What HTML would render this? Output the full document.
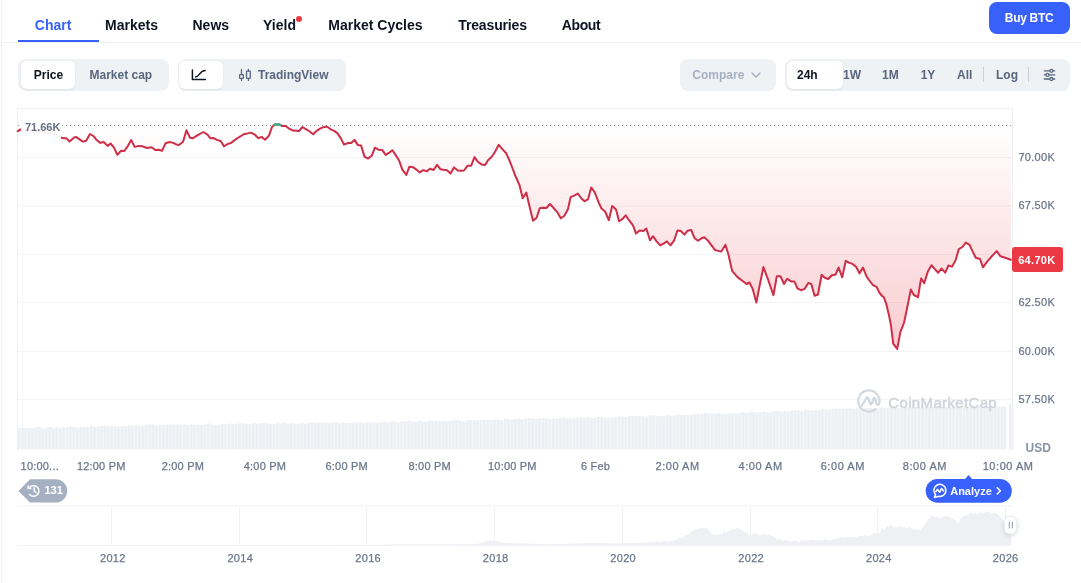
<!DOCTYPE html>
<html><head><meta charset="utf-8"><style>
*{margin:0;padding:0;box-sizing:border-box}
html,body{width:1081px;height:583px;overflow:hidden;background:#fff;font-family:"Liberation Sans",sans-serif}
.t{position:absolute;white-space:nowrap;line-height:1}
#root{position:absolute;left:0;top:0;width:1081px;height:583px;will-change:transform}
</style></head><body><div id="root">
<div style="position:absolute;left:1px;top:0px;width:1px;height:583px;background:#EEF0F3;border-radius:0px;"></div>
<div class="t" style="left:34.80px;top:18.15px;font-size:14px;color:#3861FB;font-weight:700;">Chart</div>
<div class="t" style="left:105.00px;top:18.15px;font-size:14px;color:#0D1421;font-weight:700;">Markets</div>
<div class="t" style="left:192.50px;top:18.15px;font-size:14px;color:#0D1421;font-weight:700;">News</div>
<div class="t" style="left:263.00px;top:18.15px;font-size:14px;color:#0D1421;font-weight:700;">Yield</div>
<div class="t" style="left:328.30px;top:18.15px;font-size:14px;color:#0D1421;font-weight:700;">Market Cycles</div>
<div class="t" style="left:458.30px;top:18.15px;font-size:14px;color:#0D1421;font-weight:700;letter-spacing:-0.15px;">Treasuries</div>
<div class="t" style="left:561.70px;top:18.15px;font-size:14px;color:#0D1421;font-weight:700;letter-spacing:-0.35px;">About</div>
<div style="position:absolute;left:296px;top:16px;width:6px;height:6px;background:#EA3943;border-radius:3px;"></div>
<div style="position:absolute;left:2px;top:42px;width:1079px;height:1px;background:#EFF2F5;border-radius:0px;"></div>
<div style="position:absolute;left:18px;top:40px;width:81px;height:2px;background:#3861FB;border-radius:0px;"></div>
<div style="position:absolute;left:989px;top:2px;width:81px;height:32px;background:#3861FB;border-radius:8px;"></div>
<div class="t" style="left:1004.80px;top:11.64px;font-size:12px;color:#fff;font-weight:700;letter-spacing:-0.3px;">Buy BTC</div>
<div style="position:absolute;left:18px;top:59px;width:151px;height:31.5px;background:#EFF2F5;border-radius:8px;"></div>
<div style="position:absolute;left:21px;top:61px;width:54px;height:28px;background:#fff;border-radius:6px;box-shadow:0 1px 2px rgba(88,102,126,0.12)"></div>
<div class="t" style="left:33.80px;top:68.84px;font-size:12px;color:#0D1421;font-weight:700;">Price</div>
<div class="t" style="left:89.50px;top:68.84px;font-size:12px;color:#58667E;font-weight:700;">Market cap</div>
<div style="position:absolute;left:178px;top:59px;width:168px;height:31.5px;background:#EFF2F5;border-radius:8px;"></div>
<div style="position:absolute;left:179px;top:61px;width:44px;height:28px;background:#fff;border-radius:6px;box-shadow:0 1px 2px rgba(88,102,126,0.12)"></div>
<div class="t" style="left:258.00px;top:68.84px;font-size:12px;color:#58667E;font-weight:700;">TradingView</div>
<div style="position:absolute;left:680px;top:59px;width:96px;height:31.5px;background:#EFF2F5;border-radius:8px;"></div>
<div class="t" style="left:692.30px;top:68.84px;font-size:12px;color:#A6B0C3;font-weight:700;">Compare</div>
<div style="position:absolute;left:785px;top:59px;width:285px;height:31.5px;background:#EFF2F5;border-radius:8px;"></div>
<div class="t" style="left:843.00px;top:68.84px;font-size:12px;color:#58667E;font-weight:700;">1W</div>
<div style="position:absolute;left:786.5px;top:61px;width:56.5px;height:28px;background:#fff;border-radius:6px;box-shadow:0 1px 2px rgba(88,102,126,0.12)"></div>
<div class="t" style="left:797.00px;top:68.84px;font-size:12px;color:#0D1421;font-weight:700;">24h</div>
<div class="t" style="left:882.00px;top:68.84px;font-size:12px;color:#58667E;font-weight:700;">1M</div>
<div class="t" style="left:920.70px;top:68.84px;font-size:12px;color:#58667E;font-weight:700;">1Y</div>
<div class="t" style="left:957.00px;top:68.84px;font-size:12px;color:#58667E;font-weight:700;">All</div>
<div style="position:absolute;left:982.5px;top:67.3px;width:1.2px;height:15.2px;background:#C9D0DA;border-radius:0px;"></div>
<div class="t" style="left:996.00px;top:68.84px;font-size:12px;color:#58667E;font-weight:700;">Log</div>
<div style="position:absolute;left:1028.2px;top:67.3px;width:1.2px;height:15.2px;background:#C9D0DA;border-radius:0px;"></div>

<svg style="position:absolute;left:0;top:0" width="1081" height="100" viewBox="0 0 1081 100">
 <g fill="none" stroke="#0D1421" stroke-width="1.5" stroke-linecap="round" stroke-linejoin="round">
  <path d="M192.4 70 V79.6 H205.4"/>
  <path d="M195.6 77 C199.6 76.6 199.6 70.6 205.2 70.5"/>
 </g>
 <g fill="none" stroke="#58667E" stroke-width="1.3" stroke-linecap="round">
  <path d="M241.5 69.5 V74.6 M241.5 78.4 V80.4"/><rect x="239.6" y="74.6" width="3.8" height="3.8" rx="0.6"/>
  <path d="M248.4 69.5 V71.2 M248.4 78.4 V80.4"/><rect x="246.5" y="71.2" width="3.8" height="7.2" rx="0.6"/>
 </g>
 <path d="M752 73 L756 77 L760 73" fill="none" stroke="#A6B0C3" stroke-width="1.5" stroke-linecap="round" stroke-linejoin="round"/>
 <g stroke="#58667E" stroke-width="1.3" stroke-linecap="round" fill="#EFF2F5">
  <path d="M1044.3 70.8 H1054.7"/><path d="M1044.3 74.9 H1054.7"/><path d="M1044.3 79 H1054.7"/>
  <circle cx="1051.4" cy="70.8" r="1.5"/><circle cx="1047.5" cy="74.9" r="1.5"/><circle cx="1051.4" cy="79" r="1.5"/>
 </g>
</svg>

<svg style="position:absolute;left:0;top:0" width="1081" height="583" viewBox="0 0 1081 583">
 <defs>
  <linearGradient id="rf" x1="0" y1="125.3" x2="0" y2="350" gradientUnits="userSpaceOnUse">
   <stop offset="0" stop-color="#EA3943" stop-opacity="0.0"/>
   <stop offset="1" stop-color="#EA3943" stop-opacity="0.26"/>
  </linearGradient>
 <pattern id="vp" x="17.5" y="0" width="3.45" height="10" patternUnits="userSpaceOnUse">
   <rect x="0" y="0" width="2.5" height="10" fill="#ECEFF3"/><rect x="2.5" y="0" width="0.95" height="10" fill="#F4F6F8"/>
  </pattern>
 </defs>
 <rect x="17" y="108" width="995.5" height="1" fill="#EDEFF2"/>
 <rect x="17" y="108" width="1" height="342" fill="#EDEFF2"/>
 <rect x="1012" y="108" width="1" height="342" fill="#EDEFF2"/>
 <rect x="18" y="157" width="994" height="1" fill="#F3F4F6"/><rect x="18" y="205.5" width="994" height="1" fill="#F3F4F6"/><rect x="18" y="254" width="994" height="1" fill="#F3F4F6"/><rect x="18" y="302" width="994" height="1" fill="#F3F4F6"/><rect x="18" y="351" width="994" height="1" fill="#F3F4F6"/><rect x="18" y="399" width="994" height="1" fill="#F3F4F6"/>
 <rect x="22" y="109" width="1" height="340" fill="#F6F7F9"/>
 <path d="M17.5 449.5 L17.50 427.8 L20.95 427.8 L20.95 428.1 L24.40 428.1 L24.40 427.8 L27.85 427.8 L27.85 428.1 L31.30 428.1 L31.30 428.1 L34.75 428.1 L34.75 427.1 L38.20 427.1 L38.20 427.0 L41.65 427.0 L41.65 428.2 L45.10 428.2 L45.10 427.2 L48.55 427.2 L48.55 427.1 L52.00 427.1 L52.00 428.2 L55.45 428.2 L55.45 427.3 L58.90 427.3 L58.90 427.8 L62.35 427.8 L62.35 427.2 L65.80 427.2 L65.80 427.3 L69.25 427.3 L69.25 426.5 L72.70 426.5 L72.70 427.1 L76.15 427.1 L76.15 427.4 L79.60 427.4 L79.60 426.8 L83.05 426.8 L83.05 427.0 L86.50 427.0 L86.50 426.8 L89.95 426.8 L89.95 425.8 L93.40 425.8 L93.40 426.8 L96.85 426.8 L96.85 426.5 L100.30 426.5 L100.30 425.9 L103.75 425.9 L103.75 425.4 L107.20 425.4 L107.20 426.6 L110.65 426.6 L110.65 425.9 L114.10 425.9 L114.10 426.2 L117.55 426.2 L117.55 426.4 L121.00 426.4 L121.00 426.0 L124.45 426.0 L124.45 426.2 L127.90 426.2 L127.90 425.4 L131.35 425.4 L131.35 425.9 L134.80 425.9 L134.80 425.3 L138.25 425.3 L138.25 425.9 L141.70 425.9 L141.70 425.7 L145.15 425.7 L145.15 424.5 L148.60 424.5 L148.60 424.4 L152.05 424.4 L152.05 424.5 L155.50 424.5 L155.50 425.5 L158.95 425.5 L158.95 424.7 L162.40 424.7 L162.40 424.9 L165.85 424.9 L165.85 424.4 L169.30 424.4 L169.30 424.6 L172.75 424.6 L172.75 424.4 L176.20 424.4 L176.20 424.3 L179.65 424.3 L179.65 424.6 L183.10 424.6 L183.10 424.6 L186.55 424.6 L186.55 425.0 L190.00 425.0 L190.00 424.6 L193.45 424.6 L193.45 424.9 L196.90 424.9 L196.90 424.8 L200.35 424.8 L200.35 424.9 L203.80 424.9 L203.80 424.4 L207.25 424.4 L207.25 423.6 L210.70 423.6 L210.70 424.6 L214.15 424.6 L214.15 424.7 L217.60 424.7 L217.60 424.6 L221.05 424.6 L221.05 424.0 L224.50 424.0 L224.50 424.2 L227.95 424.2 L227.95 423.4 L231.40 423.4 L231.40 424.3 L234.85 424.3 L234.85 423.8 L238.30 423.8 L238.30 423.3 L241.75 423.3 L241.75 423.0 L245.20 423.0 L245.20 424.1 L248.65 424.1 L248.65 424.3 L252.10 424.3 L252.10 422.9 L255.55 422.9 L255.55 423.9 L259.00 423.9 L259.00 423.3 L262.45 423.3 L262.45 422.9 L265.90 422.9 L265.90 423.0 L269.35 423.0 L269.35 423.7 L272.80 423.7 L272.80 423.8 L276.25 423.8 L276.25 422.6 L279.70 422.6 L279.70 423.4 L283.15 423.4 L283.15 422.5 L286.60 422.5 L286.60 423.5 L290.05 423.5 L290.05 422.9 L293.50 422.9 L293.50 423.7 L296.95 423.7 L296.95 423.8 L300.40 423.8 L300.40 423.0 L303.85 423.0 L303.85 423.7 L307.30 423.7 L307.30 422.7 L310.75 422.7 L310.75 422.3 L314.20 422.3 L314.20 423.0 L317.65 423.0 L317.65 422.2 L321.10 422.2 L321.10 422.4 L324.55 422.4 L324.55 422.7 L328.00 422.7 L328.00 422.9 L331.45 422.9 L331.45 422.2 L334.90 422.2 L334.90 422.0 L338.35 422.0 L338.35 423.2 L341.80 423.2 L341.80 422.3 L345.25 422.3 L345.25 423.2 L348.70 423.2 L348.70 423.1 L352.15 423.1 L352.15 422.2 L355.60 422.2 L355.60 422.3 L359.05 422.3 L359.05 422.3 L362.50 422.3 L362.50 422.5 L365.95 422.5 L365.95 422.3 L369.40 422.3 L369.40 422.2 L372.85 422.2 L372.85 422.2 L376.30 422.2 L376.30 422.7 L379.75 422.7 L379.75 422.0 L383.20 422.0 L383.20 421.8 L386.65 421.8 L386.65 422.2 L390.10 422.2 L390.10 421.4 L393.55 421.4 L393.55 421.4 L397.00 421.4 L397.00 422.4 L400.45 422.4 L400.45 421.6 L403.90 421.6 L403.90 421.6 L407.35 421.6 L407.35 420.7 L410.80 420.7 L410.80 421.3 L414.25 421.3 L414.25 421.5 L417.70 421.5 L417.70 420.6 L421.15 420.6 L421.15 421.4 L424.60 421.4 L424.60 421.4 L428.05 421.4 L428.05 420.4 L431.50 420.4 L431.50 421.2 L434.95 421.2 L434.95 420.9 L438.40 420.9 L438.40 421.2 L441.85 421.2 L441.85 420.6 L445.30 420.6 L445.30 421.1 L448.75 421.1 L448.75 421.1 L452.20 421.1 L452.20 420.0 L455.65 420.0 L455.65 420.0 L459.10 420.0 L459.10 420.8 L462.55 420.8 L462.55 421.2 L466.00 421.2 L466.00 420.1 L469.45 420.1 L469.45 420.3 L472.90 420.3 L472.90 420.5 L476.35 420.5 L476.35 420.0 L479.80 420.0 L479.80 420.0 L483.25 420.0 L483.25 419.8 L486.70 419.8 L486.70 419.7 L490.15 419.7 L490.15 420.0 L493.60 420.0 L493.60 419.4 L497.05 419.4 L497.05 419.4 L500.50 419.4 L500.50 419.9 L503.95 419.9 L503.95 418.6 L507.40 418.6 L507.40 419.3 L510.85 419.3 L510.85 419.5 L514.30 419.5 L514.30 418.8 L517.75 418.8 L517.75 418.6 L521.20 418.6 L521.20 419.4 L524.65 419.4 L524.65 418.5 L528.10 418.5 L528.10 418.3 L531.55 418.3 L531.55 418.6 L535.00 418.6 L535.00 418.9 L538.45 418.9 L538.45 418.0 L541.90 418.0 L541.90 418.2 L545.35 418.2 L545.35 418.2 L548.80 418.2 L548.80 418.9 L552.25 418.9 L552.25 418.2 L555.70 418.2 L555.70 418.8 L559.15 418.8 L559.15 417.7 L562.60 417.7 L562.60 417.8 L566.05 417.8 L566.05 418.2 L569.50 418.2 L569.50 418.5 L572.95 418.5 L572.95 417.8 L576.40 417.8 L576.40 417.4 L579.85 417.4 L579.85 417.2 L583.30 417.2 L583.30 417.7 L586.75 417.7 L586.75 417.1 L590.20 417.1 L590.20 418.0 L593.65 418.0 L593.65 418.0 L597.10 418.0 L597.10 416.9 L600.55 416.9 L600.55 417.0 L604.00 417.0 L604.00 417.7 L607.45 417.7 L607.45 417.3 L610.90 417.3 L610.90 417.5 L614.35 417.5 L614.35 416.7 L617.80 416.7 L617.80 416.2 L621.25 416.2 L621.25 416.4 L624.70 416.4 L624.70 417.0 L628.15 417.0 L628.15 416.1 L631.60 416.1 L631.60 416.1 L635.05 416.1 L635.05 416.1 L638.50 416.1 L638.50 416.0 L641.95 416.0 L641.95 415.9 L645.40 415.9 L645.40 416.5 L648.85 416.5 L648.85 415.2 L652.30 415.2 L652.30 414.9 L655.75 414.9 L655.75 416.2 L659.20 416.2 L659.20 416.0 L662.65 416.0 L662.65 416.0 L666.10 416.0 L666.10 415.1 L669.55 415.1 L669.55 415.8 L673.00 415.8 L673.00 415.6 L676.45 415.6 L676.45 414.4 L679.90 414.4 L679.90 415.1 L683.35 415.1 L683.35 415.1 L686.80 415.1 L686.80 414.8 L690.25 414.8 L690.25 414.4 L693.70 414.4 L693.70 414.0 L697.15 414.0 L697.15 413.9 L700.60 413.9 L700.60 413.7 L704.05 413.7 L704.05 413.3 L707.50 413.3 L707.50 414.0 L710.95 414.0 L710.95 413.4 L714.40 413.4 L714.40 414.1 L717.85 414.1 L717.85 412.8 L721.30 412.8 L721.30 414.0 L724.75 414.0 L724.75 413.6 L728.20 413.6 L728.20 413.8 L731.65 413.8 L731.65 413.6 L735.10 413.6 L735.10 413.5 L738.55 413.5 L738.55 412.9 L742.00 412.9 L742.00 412.0 L745.45 412.0 L745.45 412.9 L748.90 412.9 L748.90 411.9 L752.35 411.9 L752.35 412.0 L755.80 412.0 L755.80 412.4 L759.25 412.4 L759.25 412.1 L762.70 412.1 L762.70 411.7 L766.15 411.7 L766.15 412.4 L769.60 412.4 L769.60 411.8 L773.05 411.8 L773.05 411.2 L776.50 411.2 L776.50 410.9 L779.95 410.9 L779.95 411.7 L783.40 411.7 L783.40 411.0 L786.85 411.0 L786.85 411.3 L790.30 411.3 L790.30 410.5 L793.75 410.5 L793.75 410.2 L797.20 410.2 L797.20 410.5 L800.65 410.5 L800.65 410.8 L804.10 410.8 L804.10 409.7 L807.55 409.7 L807.55 410.5 L811.00 410.5 L811.00 410.5 L814.45 410.5 L814.45 410.2 L817.90 410.2 L817.90 410.1 L821.35 410.1 L821.35 408.7 L824.80 408.7 L824.80 409.5 L828.25 409.5 L828.25 409.7 L831.70 409.7 L831.70 408.4 L835.15 408.4 L835.15 408.6 L838.60 408.6 L838.60 408.5 L842.05 408.5 L842.05 408.8 L845.50 408.8 L845.50 408.6 L848.95 408.6 L848.95 408.6 L852.40 408.6 L852.40 409.0 L855.85 409.0 L855.85 407.8 L859.30 407.8 L859.30 407.8 L862.75 407.8 L862.75 407.9 L866.20 407.9 L866.20 407.8 L869.65 407.8 L869.65 407.7 L873.10 407.7 L873.10 409.0 L876.55 409.0 L876.55 408.7 L880.00 408.7 L880.00 407.5 L883.45 407.5 L883.45 408.1 L886.90 408.1 L886.90 407.8 L890.35 407.8 L890.35 407.7 L893.80 407.7 L893.80 407.7 L897.25 407.7 L897.25 408.1 L900.70 408.1 L900.70 407.9 L904.15 407.9 L904.15 407.5 L907.60 407.5 L907.60 407.2 L911.05 407.2 L911.05 407.4 L914.50 407.4 L914.50 407.0 L917.95 407.0 L917.95 407.6 L921.40 407.6 L921.40 407.8 L924.85 407.8 L924.85 407.2 L928.30 407.2 L928.30 406.7 L931.75 406.7 L931.75 406.8 L935.20 406.8 L935.20 407.1 L938.65 407.1 L938.65 407.3 L942.10 407.3 L942.10 407.6 L945.55 407.6 L945.55 406.9 L949.00 406.9 L949.00 407.5 L952.45 407.5 L952.45 407.1 L955.90 407.1 L955.90 406.8 L959.35 406.8 L959.35 406.7 L962.80 406.7 L962.80 406.8 L966.25 406.8 L966.25 407.0 L969.70 407.0 L969.70 406.6 L973.15 406.6 L973.15 406.9 L976.60 406.9 L976.60 406.5 L980.05 406.5 L980.05 406.1 L983.50 406.1 L983.50 406.5 L986.95 406.5 L986.95 406.7 L990.40 406.7 L990.40 405.7 L993.85 405.7 L993.85 406.2 L997.30 406.2 L997.30 406.2 L1000.75 406.2 L1000.75 406.8 L1004.20 406.8 L1004.20 406.8 L1006.40 406.8 L1006.4 449.5 Z" fill="url(#vp)"/>
 <rect x="1009" y="403.8" width="2.6" height="45.7" fill="#ECEFF3"/>
 <line x1="18" y1="125.5" x2="1011" y2="125.5" stroke="#8F949C" stroke-width="1" stroke-dasharray="1 3"/>
 <path d="M17.6 125.3 L17.6 131.3 L20.1 129.6 L30.0 130.8 L40.0 131.8 L52.7 133.6 L60.5 137.5 L63.9 138.2 L66.5 138.3 L69.5 141.6 L74.2 137.5 L76.3 137.1 L82.8 141.6 L86.2 140.7 L90.0 134.0 L93.4 136.0 L96.9 140.3 L100.3 142.9 L103.7 142.0 L107.6 145.9 L110.6 143.5 L114.0 147.6 L117.4 154.9 L120.9 150.8 L124.3 151.0 L127.7 146.3 L131.2 140.0 L134.6 146.9 L138.9 145.9 L142.3 146.3 L147.0 148.0 L151.7 147.2 L155.2 150.0 L158.6 149.7 L162.0 150.8 L165.5 143.3 L169.8 142.0 L173.2 142.9 L176.6 144.6 L178.9 145.0 L183.1 141.8 L186.4 130.3 L190.0 137.7 L193.0 138.2 L197.3 135.4 L203.3 132.0 L207.2 134.3 L210.3 138.2 L213.2 138.0 L217.0 139.9 L220.9 141.2 L223.9 146.3 L227.7 144.0 L231.2 142.9 L235.0 139.9 L238.5 137.5 L244.5 133.9 L247.5 133.4 L250.9 132.6 L254.3 134.3 L258.6 138.2 L261.6 136.9 L265.1 139.7 L269.0 135.6 L272.0 127.0 L275.0 124.4 L279.7 124.6 L282.3 126.0 L285.7 126.0 L289.2 128.7 L293.0 130.6 L299.0 131.1 L302.5 127.0 L306.3 129.4 L309.7 131.5 L313.2 134.3 L316.6 130.9 L320.0 128.7 L323.5 127.2 L326.5 126.6 L328.6 127.7 L331.2 129.6 L334.2 130.9 L337.6 133.4 L341.0 138.6 L344.0 144.6 L348.1 143.0 L351.2 143.0 L354.5 139.9 L357.9 145.1 L361.0 145.4 L364.6 156.9 L368.2 158.5 L372.0 155.4 L374.9 147.7 L378.5 149.7 L382.1 149.9 L385.7 154.9 L389.3 152.6 L392.4 150.2 L395.5 154.9 L399.1 160.5 L402.2 169.3 L406.3 175.0 L409.4 166.7 L413.0 167.2 L416.1 169.3 L419.7 172.4 L423.3 170.1 L426.9 171.3 L430.0 168.8 L433.6 170.0 L437.0 164.9 L440.3 169.2 L443.4 169.8 L447.0 170.2 L450.6 173.6 L454.0 167.4 L457.8 170.5 L460.9 170.8 L464.0 170.5 L467.6 165.7 L471.2 165.7 L474.5 157.1 L477.9 161.8 L481.5 164.4 L485.1 165.1 L488.2 159.9 L491.8 156.8 L494.9 152.0 L498.8 144.8 L502.1 148.9 L506.2 153.3 L509.3 160.2 L512.4 168.0 L515.5 176.2 L519.6 185.4 L522.7 198.2 L526.3 192.5 L529.9 208.0 L533.0 220.8 L536.6 217.7 L539.7 208.2 L542.8 207.7 L546.4 208.0 L550.0 204.0 L553.6 208.0 L557.2 212.1 L560.8 218.3 L564.4 215.7 L568.0 209.0 L570.6 197.1 L574.2 195.6 L577.8 193.5 L581.4 198.5 L584.5 201.3 L588.1 199.2 L591.2 187.4 L594.8 192.5 L598.4 201.8 L601.5 208.5 L605.1 211.5 L608.8 220.2 L612.2 206.1 L616.0 209.4 L619.1 221.3 L622.1 219.2 L625.7 215.4 L629.4 220.7 L633.0 225.4 L636.0 233.6 L639.6 230.5 L643.3 231.0 L646.3 228.5 L650.0 240.3 L653.0 236.2 L656.6 241.3 L660.2 245.3 L663.9 243.4 L666.9 241.3 L670.5 245.3 L674.2 240.3 L677.4 230.5 L680.8 231.0 L684.4 234.6 L687.5 230.8 L691.2 230.0 L694.6 238.2 L698.1 240.8 L701.2 238.5 L704.3 237.3 L708.1 240.8 L715.1 250.1 L721.3 251.6 L725.4 244.7 L728.5 254.7 L732.1 270.9 L737.5 277.1 L743.6 281.7 L746.7 284.0 L749.5 282.5 L752.9 289.4 L756.3 302.6 L759.8 284.8 L763.4 267.1 L768.3 280.2 L773.4 295.3 L776.8 276.3 L780.4 276.3 L784.1 284.0 L787.1 278.8 L791.3 281.4 L794.4 281.4 L797.4 288.3 L801.0 290.2 L804.6 288.9 L808.3 283.0 L811.3 284.0 L814.6 295.8 L818.0 294.5 L821.6 274.7 L824.7 277.8 L828.3 279.0 L831.9 275.2 L835.5 274.7 L838.6 267.5 L842.2 277.3 L845.8 260.8 L849.4 262.9 L852.5 263.9 L856.3 267.1 L859.4 273.4 L863.0 267.6 L866.6 276.6 L869.8 281.0 L873.0 285.1 L876.6 286.9 L879.2 292.3 L881.5 295.4 L883.8 297.2 L886.0 303.1 L888.7 313.9 L891.0 325.6 L893.2 343.6 L897.2 349.0 L900.4 331.9 L904.0 322.9 L907.6 305.8 L910.8 289.6 L913.9 295.0 L918.0 297.2 L921.1 278.4 L924.2 283.3 L927.8 271.6 L931.5 265.2 L934.6 268.9 L938.2 272.7 L941.5 268.6 L945.2 272.7 L948.5 265.5 L952.1 266.6 L955.7 259.9 L958.8 249.1 L962.4 247.0 L965.8 242.6 L969.6 244.9 L972.7 251.6 L975.8 257.8 L980.0 259.0 L983.0 267.3 L986.6 262.4 L990.8 257.3 L996.7 251.1 L1000.5 256.3 L1005.2 257.8 L1010.8 259.7 L1010.8 125.3 Z" fill="url(#rf)"/>
 <path d="M17.6 131.3 L20.1 129.6 L30.0 130.8 L40.0 131.8 L52.7 133.6 L60.5 137.5 L63.9 138.2 L66.5 138.3 L69.5 141.6 L74.2 137.5 L76.3 137.1 L82.8 141.6 L86.2 140.7 L90.0 134.0 L93.4 136.0 L96.9 140.3 L100.3 142.9 L103.7 142.0 L107.6 145.9 L110.6 143.5 L114.0 147.6 L117.4 154.9 L120.9 150.8 L124.3 151.0 L127.7 146.3 L131.2 140.0 L134.6 146.9 L138.9 145.9 L142.3 146.3 L147.0 148.0 L151.7 147.2 L155.2 150.0 L158.6 149.7 L162.0 150.8 L165.5 143.3 L169.8 142.0 L173.2 142.9 L176.6 144.6 L178.9 145.0 L183.1 141.8 L186.4 130.3 L190.0 137.7 L193.0 138.2 L197.3 135.4 L203.3 132.0 L207.2 134.3 L210.3 138.2 L213.2 138.0 L217.0 139.9 L220.9 141.2 L223.9 146.3 L227.7 144.0 L231.2 142.9 L235.0 139.9 L238.5 137.5 L244.5 133.9 L247.5 133.4 L250.9 132.6 L254.3 134.3 L258.6 138.2 L261.6 136.9 L265.1 139.7 L269.0 135.6 L272.0 127.0 L275.0 124.4 L279.7 124.6 L282.3 126.0 L285.7 126.0 L289.2 128.7 L293.0 130.6 L299.0 131.1 L302.5 127.0 L306.3 129.4 L309.7 131.5 L313.2 134.3 L316.6 130.9 L320.0 128.7 L323.5 127.2 L326.5 126.6 L328.6 127.7 L331.2 129.6 L334.2 130.9 L337.6 133.4 L341.0 138.6 L344.0 144.6 L348.1 143.0 L351.2 143.0 L354.5 139.9 L357.9 145.1 L361.0 145.4 L364.6 156.9 L368.2 158.5 L372.0 155.4 L374.9 147.7 L378.5 149.7 L382.1 149.9 L385.7 154.9 L389.3 152.6 L392.4 150.2 L395.5 154.9 L399.1 160.5 L402.2 169.3 L406.3 175.0 L409.4 166.7 L413.0 167.2 L416.1 169.3 L419.7 172.4 L423.3 170.1 L426.9 171.3 L430.0 168.8 L433.6 170.0 L437.0 164.9 L440.3 169.2 L443.4 169.8 L447.0 170.2 L450.6 173.6 L454.0 167.4 L457.8 170.5 L460.9 170.8 L464.0 170.5 L467.6 165.7 L471.2 165.7 L474.5 157.1 L477.9 161.8 L481.5 164.4 L485.1 165.1 L488.2 159.9 L491.8 156.8 L494.9 152.0 L498.8 144.8 L502.1 148.9 L506.2 153.3 L509.3 160.2 L512.4 168.0 L515.5 176.2 L519.6 185.4 L522.7 198.2 L526.3 192.5 L529.9 208.0 L533.0 220.8 L536.6 217.7 L539.7 208.2 L542.8 207.7 L546.4 208.0 L550.0 204.0 L553.6 208.0 L557.2 212.1 L560.8 218.3 L564.4 215.7 L568.0 209.0 L570.6 197.1 L574.2 195.6 L577.8 193.5 L581.4 198.5 L584.5 201.3 L588.1 199.2 L591.2 187.4 L594.8 192.5 L598.4 201.8 L601.5 208.5 L605.1 211.5 L608.8 220.2 L612.2 206.1 L616.0 209.4 L619.1 221.3 L622.1 219.2 L625.7 215.4 L629.4 220.7 L633.0 225.4 L636.0 233.6 L639.6 230.5 L643.3 231.0 L646.3 228.5 L650.0 240.3 L653.0 236.2 L656.6 241.3 L660.2 245.3 L663.9 243.4 L666.9 241.3 L670.5 245.3 L674.2 240.3 L677.4 230.5 L680.8 231.0 L684.4 234.6 L687.5 230.8 L691.2 230.0 L694.6 238.2 L698.1 240.8 L701.2 238.5 L704.3 237.3 L708.1 240.8 L715.1 250.1 L721.3 251.6 L725.4 244.7 L728.5 254.7 L732.1 270.9 L737.5 277.1 L743.6 281.7 L746.7 284.0 L749.5 282.5 L752.9 289.4 L756.3 302.6 L759.8 284.8 L763.4 267.1 L768.3 280.2 L773.4 295.3 L776.8 276.3 L780.4 276.3 L784.1 284.0 L787.1 278.8 L791.3 281.4 L794.4 281.4 L797.4 288.3 L801.0 290.2 L804.6 288.9 L808.3 283.0 L811.3 284.0 L814.6 295.8 L818.0 294.5 L821.6 274.7 L824.7 277.8 L828.3 279.0 L831.9 275.2 L835.5 274.7 L838.6 267.5 L842.2 277.3 L845.8 260.8 L849.4 262.9 L852.5 263.9 L856.3 267.1 L859.4 273.4 L863.0 267.6 L866.6 276.6 L869.8 281.0 L873.0 285.1 L876.6 286.9 L879.2 292.3 L881.5 295.4 L883.8 297.2 L886.0 303.1 L888.7 313.9 L891.0 325.6 L893.2 343.6 L897.2 349.0 L900.4 331.9 L904.0 322.9 L907.6 305.8 L910.8 289.6 L913.9 295.0 L918.0 297.2 L921.1 278.4 L924.2 283.3 L927.8 271.6 L931.5 265.2 L934.6 268.9 L938.2 272.7 L941.5 268.6 L945.2 272.7 L948.5 265.5 L952.1 266.6 L955.7 259.9 L958.8 249.1 L962.4 247.0 L965.8 242.6 L969.6 244.9 L972.7 251.6 L975.8 257.8 L980.0 259.0 L983.0 267.3 L986.6 262.4 L990.8 257.3 L996.7 251.1 L1000.5 256.3 L1005.2 257.8 L1010.8 259.7" fill="none" stroke="#CE2E47" stroke-width="2" stroke-linejoin="round" stroke-linecap="round"/>
 <path d="M274.2 124.7 L275 124.4 L279.7 124.6 L280.4 125" fill="none" stroke="#3BAE7E" stroke-width="2.2" stroke-linecap="round"/>
</svg>
<div style="position:absolute;left:20.5px;top:117px;width:40.5px;height:24px;background:rgba(255,255,255,0.93);border-radius:3px;"></div>
<div class="t" style="left:24.90px;top:121.59px;font-size:11px;color:#657087;font-weight:700;">71.66K</div>
<div class="t" style="left:1018.40px;top:151.59px;font-size:11px;color:#6B768A;letter-spacing:0.3px;-webkit-text-stroke:0.25px #6B768A;">70.00K</div>
<div class="t" style="left:1018.40px;top:200.09px;font-size:11px;color:#6B768A;letter-spacing:0.3px;-webkit-text-stroke:0.25px #6B768A;">67.50K</div>
<div class="t" style="left:1018.40px;top:296.59px;font-size:11px;color:#6B768A;letter-spacing:0.3px;-webkit-text-stroke:0.25px #6B768A;">62.50K</div>
<div class="t" style="left:1018.40px;top:345.59px;font-size:11px;color:#6B768A;letter-spacing:0.3px;-webkit-text-stroke:0.25px #6B768A;">60.00K</div>
<div class="t" style="left:1018.40px;top:393.59px;font-size:11px;color:#6B768A;letter-spacing:0.3px;-webkit-text-stroke:0.25px #6B768A;">57.50K</div>
<div style="position:absolute;left:1012px;top:247px;width:51px;height:25px;background:#EA3943;border-radius:3px;"></div>
<div class="t" style="left:1018.20px;top:254.69px;font-size:11px;color:#fff;font-weight:700;letter-spacing:0.3px;">64.70K</div>
<div class="t" style="left:1025.60px;top:441.54px;font-size:12px;color:#8A94A6;font-weight:700;">USD</div>
<div class="t" style="left:20.60px;top:460.69px;font-size:11px;color:#6B768A;letter-spacing:0.2px;-webkit-text-stroke:0.25px #6B768A;">10:00...</div>
<div class="t" style="left:76.90px;top:460.69px;font-size:11px;color:#6B768A;letter-spacing:0.2px;-webkit-text-stroke:0.25px #6B768A;">12:00 PM</div>
<div class="t" style="left:161.70px;top:460.69px;font-size:11px;color:#6B768A;letter-spacing:0.2px;-webkit-text-stroke:0.25px #6B768A;">2:00 PM</div>
<div class="t" style="left:243.80px;top:460.69px;font-size:11px;color:#6B768A;letter-spacing:0.2px;-webkit-text-stroke:0.25px #6B768A;">4:00 PM</div>
<div class="t" style="left:325.50px;top:460.69px;font-size:11px;color:#6B768A;letter-spacing:0.2px;-webkit-text-stroke:0.25px #6B768A;">6:00 PM</div>
<div class="t" style="left:408.50px;top:460.69px;font-size:11px;color:#6B768A;letter-spacing:0.2px;-webkit-text-stroke:0.25px #6B768A;">8:00 PM</div>
<div class="t" style="left:488.00px;top:460.69px;font-size:11px;color:#6B768A;letter-spacing:0.2px;-webkit-text-stroke:0.25px #6B768A;">10:00 PM</div>
<div class="t" style="left:580.90px;top:460.69px;font-size:11px;color:#6B768A;letter-spacing:0.2px;-webkit-text-stroke:0.25px #6B768A;">6 Feb</div>
<div class="t" style="left:655.50px;top:460.69px;font-size:11px;color:#6B768A;letter-spacing:0.55px;-webkit-text-stroke:0.25px #6B768A;">2:00 AM</div>
<div class="t" style="left:738.50px;top:460.69px;font-size:11px;color:#6B768A;letter-spacing:0.55px;-webkit-text-stroke:0.25px #6B768A;">4:00 AM</div>
<div class="t" style="left:820.70px;top:460.69px;font-size:11px;color:#6B768A;letter-spacing:0.55px;-webkit-text-stroke:0.25px #6B768A;">6:00 AM</div>
<div class="t" style="left:902.80px;top:460.69px;font-size:11px;color:#6B768A;letter-spacing:0.55px;-webkit-text-stroke:0.25px #6B768A;">8:00 AM</div>
<div class="t" style="left:982.70px;top:460.69px;font-size:11px;color:#6B768A;letter-spacing:0.55px;-webkit-text-stroke:0.25px #6B768A;">10:00 AM</div>
<svg style="position:absolute;left:0;top:0" width="1081" height="583" viewBox="0 0 1081 583">
 <g fill="none" stroke="#D3D8E0" stroke-width="2.2" stroke-linecap="round" stroke-linejoin="round">
  <path d="M875.6 409.2 A10.6 10.6 0 1 1 879.1 403.8"/>
  <path d="M861.8 405.8 L866.4 398 Q867.4 396.6 868.3 398.3 L870.2 403.8 Q871 405.2 871.8 403.6 L873.6 398.4 Q874.4 397 875.2 398.6 L876.5 403.6 Q877.4 406 879.3 403.8"/>
 </g>
</svg>
<div class="t" style="left:888.30px;top:394.80px;font-size:15px;color:#D0D5DD;letter-spacing:0.35px;-webkit-text-stroke:0.55px #D0D5DD;">CoinMarketCap</div>
<svg style="position:absolute;left:0;top:0" width="1081" height="583" viewBox="0 0 1081 583">
 <path d="M30 479.2 H55.5 A11.7 11.7 0 0 1 55.5 502.6 H30 L18.5 491 Z" fill="#A6B0C3"/>
 <g fill="none" stroke="#fff" stroke-width="1.5" stroke-linecap="round" stroke-linejoin="round">
  <path d="M29.3 488 A5.3 5.3 0 1 1 29.6 494.5"/>
  <path d="M28.2 486 V488.6 H30.8"/>
  <path d="M34.2 488 V491 L36 492.5"/>
 </g>
 <path d="M964.6 479.5 L968.6 475 L972.6 479.5 Z" fill="#3861FB"/>
 <rect x="925.7" y="479" width="86.1" height="23.8" rx="11.9" fill="#3861FB"/>
 <g fill="none" stroke="#fff" stroke-width="1.5" stroke-linecap="round" stroke-linejoin="round">
  <path d="M938.8 496.3 A6 6 0 1 0 935.6 494.6 L934.4 497.4 Z"/>
  <path d="M935.9 491.6 L937.6 489.3 L939.6 492.3 L941.6 488.4 L943.6 491"/>
  <path d="M997.2 487.8 L1000.3 490.9 L997.2 494"/>
 </g>
</svg>
<div class="t" style="left:44.40px;top:485.39px;font-size:11px;color:#fff;font-weight:700;">131</div>
<div class="t" style="left:950.20px;top:486.19px;font-size:11px;color:#fff;font-weight:700;">Analyze</div>
<svg style="position:absolute;left:0;top:0" width="1081" height="583" viewBox="0 0 1081 583">
 <rect x="17" y="505.3" width="995" height="1" fill="#F1F3F6"/>
 <rect x="111" y="506" width="1" height="39.5" fill="#F1F3F6"/><rect x="239" y="506" width="1" height="39.5" fill="#F1F3F6"/><rect x="366" y="506" width="1" height="39.5" fill="#F1F3F6"/><rect x="494" y="506" width="1" height="39.5" fill="#F1F3F6"/><rect x="622" y="506" width="1" height="39.5" fill="#F1F3F6"/><rect x="750" y="506" width="1" height="39.5" fill="#F1F3F6"/><rect x="877" y="506" width="1" height="39.5" fill="#F1F3F6"/><rect x="1005" y="506" width="1" height="39.5" fill="#F1F3F6"/>
 <path d="M17.0 545.0 L18.5 545.0 L20.0 545.0 L21.5 545.0 L23.0 545.0 L24.5 545.0 L26.0 545.0 L27.5 545.0 L29.0 545.0 L30.5 545.0 L32.1 545.0 L33.6 545.0 L35.1 545.0 L36.6 545.0 L38.1 545.0 L39.6 545.0 L41.1 545.0 L42.6 545.0 L44.1 545.0 L45.6 545.0 L47.1 545.0 L48.6 545.0 L50.1 545.0 L51.6 545.0 L53.1 545.0 L54.6 545.0 L56.1 545.0 L57.6 545.0 L59.1 545.0 L60.7 545.0 L62.2 545.0 L63.7 545.0 L65.2 545.0 L66.7 545.0 L68.2 545.0 L69.7 545.0 L71.2 545.0 L72.7 545.0 L74.2 545.0 L75.7 545.0 L77.2 545.0 L78.7 545.0 L80.2 545.0 L81.7 545.0 L83.2 545.0 L84.7 545.0 L86.2 545.0 L87.8 545.0 L89.3 545.0 L90.8 545.0 L92.3 545.0 L93.8 545.0 L95.3 545.0 L96.8 545.0 L98.3 545.0 L99.8 545.0 L101.3 545.0 L102.8 545.0 L104.3 545.0 L105.8 545.0 L107.3 545.0 L108.8 545.0 L110.3 545.0 L111.8 545.0 L113.3 545.0 L114.8 545.0 L116.4 545.0 L117.9 545.0 L119.4 545.0 L120.9 545.0 L122.4 545.0 L123.9 545.0 L125.4 545.0 L126.9 545.0 L128.4 545.0 L129.9 545.0 L131.4 545.0 L132.9 545.0 L134.4 545.0 L135.9 545.0 L137.4 545.0 L138.9 545.0 L140.4 545.0 L141.9 545.0 L143.4 545.0 L145.0 545.0 L146.5 545.0 L148.0 545.0 L149.5 545.0 L151.0 545.0 L152.5 545.0 L154.0 545.0 L155.5 545.0 L157.0 545.0 L158.5 545.0 L160.0 545.0 L161.5 545.0 L163.0 545.0 L164.5 545.0 L166.0 545.0 L167.5 545.0 L169.0 545.0 L170.5 545.0 L172.0 545.0 L173.6 545.0 L175.1 545.0 L176.6 545.0 L178.1 545.0 L179.6 545.0 L181.1 545.0 L182.6 545.0 L184.1 545.0 L185.6 545.0 L187.1 545.0 L188.6 545.0 L190.1 545.0 L191.6 545.0 L193.1 545.0 L194.6 545.0 L196.1 545.0 L197.6 545.0 L199.1 545.0 L200.6 545.0 L202.2 545.0 L203.7 545.0 L205.2 545.0 L206.7 545.0 L208.2 545.0 L209.7 545.0 L211.2 545.0 L212.7 545.0 L214.2 545.0 L215.7 545.0 L217.2 545.0 L218.7 545.0 L220.2 545.0 L221.7 545.0 L223.2 545.0 L224.7 545.0 L226.2 545.0 L227.7 545.0 L229.2 545.0 L230.8 545.0 L232.3 545.0 L233.8 545.0 L235.3 545.0 L236.8 545.0 L238.3 545.0 L239.8 545.0 L241.3 545.0 L242.8 545.0 L244.3 545.0 L245.8 545.0 L247.3 545.0 L248.8 545.0 L250.3 545.0 L251.8 545.0 L253.3 545.0 L254.8 545.0 L256.3 545.0 L257.9 545.0 L259.4 545.0 L260.9 545.0 L262.4 545.0 L263.9 545.0 L265.4 545.0 L266.9 545.0 L268.4 545.0 L269.9 545.0 L271.4 545.0 L272.9 545.0 L274.4 545.0 L275.9 545.0 L277.4 545.0 L278.9 545.0 L280.4 545.0 L281.9 545.0 L283.4 545.0 L284.9 545.0 L286.5 545.0 L288.0 545.0 L289.5 545.0 L291.0 545.0 L292.5 545.0 L294.0 545.0 L295.5 545.0 L297.0 545.0 L298.5 545.0 L300.0 545.0 L301.5 545.0 L303.0 545.0 L304.5 545.0 L306.0 545.0 L307.5 545.0 L309.0 545.0 L310.5 545.0 L312.0 545.0 L313.5 544.9 L315.0 544.9 L316.5 544.9 L318.1 544.9 L319.6 544.9 L321.1 544.9 L322.6 544.9 L324.1 544.9 L325.6 544.9 L327.1 544.9 L328.6 544.9 L330.1 544.9 L331.6 544.9 L333.1 544.9 L334.6 544.9 L336.1 544.9 L337.6 544.8 L339.1 544.8 L340.6 544.8 L342.1 544.8 L343.6 544.8 L345.1 544.8 L346.6 544.8 L348.1 544.8 L349.6 544.8 L351.2 544.8 L352.7 544.8 L354.2 544.8 L355.7 544.8 L357.2 544.8 L358.7 544.8 L360.2 544.8 L361.7 544.7 L363.2 544.7 L364.7 544.7 L366.2 544.7 L367.7 544.7 L369.2 544.7 L370.7 544.7 L372.2 544.7 L373.7 544.7 L375.2 544.7 L376.7 544.7 L378.2 544.7 L379.7 544.7 L381.2 544.7 L382.7 544.7 L384.2 544.7 L385.8 544.6 L387.3 544.6 L388.8 544.6 L390.3 544.6 L391.8 544.6 L393.3 544.6 L394.8 544.6 L396.3 544.6 L397.8 544.6 L399.3 544.6 L400.8 544.6 L402.3 544.6 L403.8 544.6 L405.3 544.6 L406.8 544.6 L408.3 544.6 L409.8 544.5 L411.3 544.5 L412.8 544.5 L414.3 544.5 L415.8 544.5 L417.3 544.5 L418.8 544.5 L420.4 544.5 L421.9 544.5 L423.4 544.5 L424.9 544.5 L426.4 544.5 L427.9 544.5 L429.4 544.5 L430.9 544.5 L432.4 544.5 L433.9 544.4 L435.4 544.4 L436.9 544.4 L438.4 544.4 L439.9 544.4 L441.4 544.4 L442.9 544.4 L444.4 544.4 L445.9 544.4 L447.4 544.4 L448.9 544.4 L450.4 544.4 L451.9 544.4 L453.5 544.4 L455.0 544.4 L456.5 544.4 L458.0 544.3 L459.5 544.3 L461.0 544.3 L462.5 544.3 L464.0 544.3 L465.5 544.3 L467.0 544.3 L468.5 544.3 L470.0 544.3 L471.7 544.2 L473.3 544.0 L475.0 543.9 L476.7 543.8 L478.3 543.6 L480.0 543.5 L481.8 542.9 L483.5 542.2 L485.2 541.6 L487.0 541.0 L488.5 540.8 L490.0 540.5 L492.0 540.4 L494.0 540.2 L495.5 540.8 L497.0 541.4 L498.5 541.9 L500.0 542.5 L501.7 542.7 L503.3 542.8 L505.0 543.0 L506.5 543.0 L508.0 543.1 L509.6 543.1 L511.1 543.2 L512.6 543.2 L514.1 543.3 L515.6 543.3 L517.1 543.3 L518.6 543.4 L520.2 543.4 L521.7 543.5 L523.2 543.5 L524.7 543.6 L526.2 543.6 L527.8 543.6 L529.3 543.7 L530.8 543.7 L532.3 543.8 L533.8 543.8 L535.3 543.9 L536.9 543.9 L538.4 544.0 L539.9 544.0 L541.4 544.0 L542.9 544.1 L544.4 544.1 L546.0 544.2 L547.5 544.2 L549.0 544.3 L550.5 544.3 L552.0 544.2 L553.6 544.2 L555.1 544.1 L556.7 544.1 L558.2 544.0 L559.8 544.0 L561.3 543.9 L562.9 543.9 L564.4 543.9 L566.0 543.8 L567.5 543.8 L569.1 543.7 L570.6 543.6 L572.1 543.6 L573.7 543.5 L575.2 543.5 L576.8 543.4 L578.3 543.4 L579.9 543.4 L581.4 543.3 L583.0 543.2 L584.5 543.2 L586.1 543.1 L587.6 543.1 L589.2 543.0 L590.7 543.0 L592.2 543.0 L593.8 543.1 L595.3 543.1 L596.9 543.1 L598.4 543.1 L600.0 543.2 L601.5 543.2 L603.0 543.2 L604.6 543.2 L606.1 543.3 L607.7 543.3 L609.2 543.3 L610.7 543.3 L612.3 543.4 L613.8 543.4 L615.4 543.4 L616.9 543.4 L618.5 543.5 L620.0 543.5 L621.5 543.5 L623.0 543.4 L624.5 543.4 L626.0 543.3 L627.6 543.3 L629.1 543.2 L630.6 543.2 L632.1 543.1 L633.6 543.1 L635.1 543.1 L636.6 543.0 L638.1 543.0 L639.7 542.9 L641.2 542.4 L642.7 541.9 L644.2 543.2 L645.7 541.6 L647.2 542.8 L648.7 542.3 L650.2 541.5 L651.8 542.6 L653.3 541.3 L654.8 542.3 L656.3 541.3 L657.8 541.3 L659.4 542.0 L661.0 542.8 L662.6 540.8 L664.2 540.8 L665.8 541.6 L667.5 542.2 L669.1 541.1 L670.7 540.4 L672.3 541.7 L673.9 539.0 L675.4 540.8 L677.0 539.1 L678.5 538.4 L680.0 538.0 L681.5 537.6 L683.1 538.0 L684.6 535.4 L686.4 535.3 L688.2 534.4 L690.0 532.7 L691.5 532.3 L693.1 530.3 L694.6 529.5 L696.2 529.0 L697.7 529.5 L699.6 528.5 L701.5 528.0 L703.4 528.4 L705.1 528.3 L706.8 528.2 L708.5 529.8 L710.2 532.5 L712.0 534.2 L713.7 534.9 L715.4 534.5 L717.0 535.2 L718.7 534.6 L720.4 533.2 L722.1 534.7 L723.7 532.0 L725.3 532.3 L726.8 532.7 L728.4 530.6 L730.0 531.0 L731.9 528.8 L733.7 529.4 L735.5 528.7 L737.4 527.2 L738.9 529.0 L740.5 528.5 L742.0 530.5 L743.8 531.2 L745.5 532.2 L747.2 532.9 L749.0 534.9 L750.6 535.2 L752.1 533.9 L753.7 534.4 L755.3 532.9 L756.9 534.5 L758.4 534.4 L760.0 535.3 L761.7 535.0 L763.3 533.8 L765.0 534.2 L766.7 535.1 L768.3 533.6 L770.0 534.9 L771.8 535.4 L773.5 536.5 L775.3 537.6 L777.1 540.7 L778.6 539.1 L780.1 539.5 L781.7 539.9 L783.2 541.2 L784.7 539.2 L786.2 540.3 L787.8 540.6 L789.3 541.5 L790.8 541.4 L792.3 541.6 L793.9 540.1 L795.4 540.6 L796.9 540.5 L798.4 541.9 L800.0 542.2 L801.5 540.1 L803.0 540.3 L804.5 540.3 L806.0 540.2 L807.5 540.7 L809.1 540.9 L810.6 539.9 L812.1 539.2 L813.6 540.1 L815.1 539.9 L816.6 540.3 L818.1 541.2 L819.6 540.4 L821.2 539.9 L822.7 540.0 L824.2 540.1 L825.7 538.3 L827.2 540.5 L828.7 540.1 L830.3 540.2 L831.8 539.9 L833.3 538.8 L834.8 538.7 L836.4 537.9 L837.9 539.1 L839.4 537.6 L840.9 537.5 L842.5 537.8 L844.0 537.6 L845.5 537.9 L847.0 537.1 L848.6 536.9 L850.1 537.2 L851.6 537.0 L853.1 537.4 L854.7 536.3 L856.2 538.2 L857.7 537.3 L859.3 535.8 L860.8 535.9 L862.3 535.9 L863.9 535.6 L865.4 534.8 L866.9 536.4 L868.5 536.5 L870.0 534.9 L871.6 534.6 L873.2 533.1 L874.8 532.8 L876.4 533.0 L878.0 532.4 L879.6 532.9 L881.1 530.1 L882.7 528.8 L884.3 530.2 L885.9 528.1 L887.4 526.1 L889.0 526.1 L890.6 524.9 L892.2 526.3 L893.8 527.7 L895.4 527.5 L897.0 527.2 L898.6 526.2 L900.2 526.6 L901.8 526.2 L903.4 527.9 L905.0 527.4 L906.6 528.2 L908.5 527.2 L910.3 527.0 L912.1 528.7 L914.0 529.3 L915.8 529.3 L917.5 529.6 L919.2 530.0 L921.0 530.2 L922.6 527.0 L924.1 525.8 L925.7 523.5 L927.3 520.7 L928.9 518.8 L930.4 517.5 L932.0 515.6 L933.6 516.8 L935.2 517.6 L936.9 516.4 L938.5 517.7 L940.1 518.0 L941.8 518.0 L943.4 516.5 L945.0 516.3 L946.5 516.5 L948.0 516.5 L949.5 516.7 L951.0 518.0 L952.5 518.9 L954.0 518.9 L955.8 520.6 L957.5 523.8 L959.3 521.9 L961.1 517.8 L962.9 517.1 L964.7 515.5 L966.4 514.9 L968.1 514.6 L969.9 513.6 L971.6 512.6 L973.3 514.0 L975.0 512.6 L976.5 513.7 L978.1 514.0 L979.6 512.4 L981.2 512.3 L982.8 513.6 L984.3 512.9 L985.9 511.6 L987.5 511.7 L989.2 511.9 L990.8 514.1 L992.3 513.7 L993.9 511.8 L995.5 513.5 L997.0 513.7 L998.9 515.3 L1000.7 516.9 L1002.4 519.6 L1004.0 521.6 L1005.8 521.7 L1007.5 521.8 L1009.2 521.9 L1011.0 522.0 L1011 545.5 L17 545.5 Z" fill="#EEF0F3"/>
 <rect x="17" y="545" width="995" height="1" fill="#F1F3F6"/>
 <rect x="1004.2" y="516.6" width="12.6" height="17.6" rx="6" fill="#fff" stroke="#E6E9EE" stroke-width="0.8" style="filter:drop-shadow(0 1px 2px rgba(88,102,126,0.25))"/>
 <path d="M1009.3 521.8 V528.4 M1012.3 521.8 V528.4" stroke="#8D97A8" stroke-width="1"/>
</svg>
<div class="t" style="left:100.00px;top:552.69px;font-size:11px;color:#6B768A;letter-spacing:0.3px;-webkit-text-stroke:0.25px #6B768A;">2012</div>
<div class="t" style="left:227.40px;top:552.69px;font-size:11px;color:#6B768A;letter-spacing:0.3px;-webkit-text-stroke:0.25px #6B768A;">2014</div>
<div class="t" style="left:355.30px;top:552.69px;font-size:11px;color:#6B768A;letter-spacing:0.3px;-webkit-text-stroke:0.25px #6B768A;">2016</div>
<div class="t" style="left:482.80px;top:552.69px;font-size:11px;color:#6B768A;letter-spacing:0.3px;-webkit-text-stroke:0.25px #6B768A;">2018</div>
<div class="t" style="left:610.30px;top:552.69px;font-size:11px;color:#6B768A;letter-spacing:0.3px;-webkit-text-stroke:0.25px #6B768A;">2020</div>
<div class="t" style="left:738.30px;top:552.69px;font-size:11px;color:#6B768A;letter-spacing:0.3px;-webkit-text-stroke:0.25px #6B768A;">2022</div>
<div class="t" style="left:866.00px;top:552.69px;font-size:11px;color:#6B768A;letter-spacing:0.3px;-webkit-text-stroke:0.25px #6B768A;">2024</div>
<div class="t" style="left:992.80px;top:552.69px;font-size:11px;color:#6B768A;letter-spacing:0.3px;-webkit-text-stroke:0.25px #6B768A;">2026</div>
</div></body></html>
